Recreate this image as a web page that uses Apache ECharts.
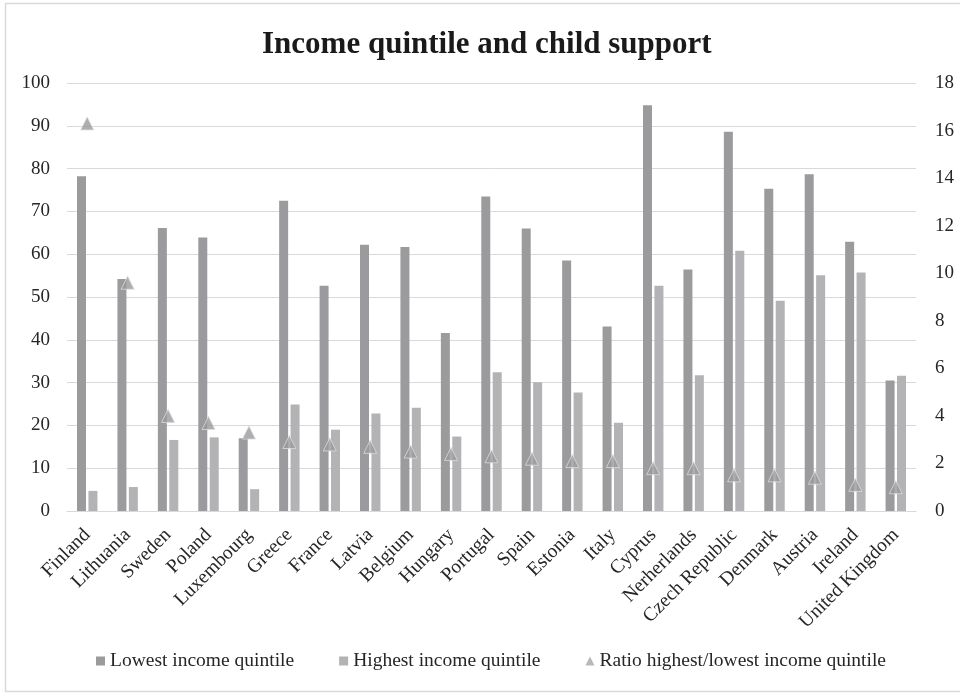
<!DOCTYPE html>
<html>
<head>
<meta charset="utf-8">
<script src="https://cdn.jsdelivr.net/npm/echarts@6/dist/echarts.min.js"></script>
<style>
  html, body { margin: 0; padding: 0; background: #fff; }
  #chart { width: 960px; height: 694px; }
</style>
</head>
<body>
<div id="chart"></div>
<script>
// Countries along the category axis
const countries = ['Finland', 'Lithuania', 'Sweden', 'Poland', 'Luxembourg', 'Greece', 'France',
  'Latvia', 'Belgium', 'Hungary', 'Portugal', 'Spain', 'Estonia', 'Italy', 'Cyprus',
  'Nerherlands', 'Czech Republic', 'Denmark', 'Austria', 'Ireland', 'United Kingdom'];

// Share receiving child support, lowest income quintile (left axis)
const lowestQuintile = [78.2, 54.2, 66.1, 63.9, 17.0, 72.5, 52.6, 62.2, 61.7, 41.6, 73.5,
  66.0, 58.5, 43.1, 94.8, 56.4, 88.6, 75.3, 78.7, 62.9, 30.5];

// Share receiving child support, highest income quintile (left axis)
const highestQuintile = [4.7, 5.6, 16.6, 17.2, 5.1, 24.9, 19.0, 22.8, 24.1, 17.4, 32.4,
  30.1, 27.7, 20.6, 52.6, 31.7, 60.8, 49.1, 55.1, 55.7, 31.6];

// Ratio between the two quintiles (right axis)
const ratio = [16.3, 9.6, 4.0, 3.7, 3.3, 2.9, 2.8, 2.7, 2.5, 2.4, 2.3,
  2.2, 2.1, 2.1, 1.8, 1.8, 1.5, 1.5, 1.4, 1.1, 1.0];

// Axis ranges
const leftAxis = { min: 0, max: 100, interval: 10 };
const rightAxis = { min: 0, max: 18, interval: 2 };

const serif = '"Liberation Serif", "DejaVu Serif", serif';
const textColor = '#262626';
const gridColor = '#d9d9d9';

const chart = echarts.init(document.getElementById('chart'), null, { renderer: 'canvas' });

chart.setOption({
  backgroundColor: '#ffffff',
  animation: false,
  graphic: [{
    type: 'rect',
    shape: { x: 5.5, y: 3.5, width: 1000, height: 688 },
    style: { fill: 'none', stroke: '#d9d9d9', lineWidth: 1.5 },
    silent: true
  }],
  title: {
    text: 'Income quintile and child support',
    left: 257,
    top: 24,
    textStyle: { fontFamily: serif, fontWeight: 'bold', fontSize: 31, color: '#1a1a1a' }
  },
  legend: {
    bottom: 18,
    left: 91,
    itemWidth: 9,
    itemHeight: 9,
    itemGap: 45,
    textStyle: { fontFamily: serif, fontSize: 19.5, color: textColor },
    data: [
      { name: 'Lowest income quintile', icon: 'rect' },
      { name: 'Highest income quintile', icon: 'rect' },
      { name: 'Ratio highest/lowest income quintile', icon: 'triangle',
        itemStyle: { color: '#a6a6a6', borderWidth: 0 } }
    ]
  },
  grid: { left: 67, right: 44, top: 83, bottom: 183, containLabel: false },
  xAxis: {
    type: 'category',
    data: countries,
    axisLine: { show: true, lineStyle: { color: gridColor, width: 1 } },
    axisTick: { show: false },
    axisLabel: {
      rotate: 45,
      interval: 0,
      margin: 21,
      fontFamily: serif,
      fontSize: 19.5,
      color: textColor
    }
  },
  yAxis: [{
    type: 'value',
    min: leftAxis.min,
    max: leftAxis.max,
    interval: leftAxis.interval,
    axisLine: { show: false },
    axisTick: { show: false },
    splitLine: { lineStyle: { color: gridColor, width: 1 } },
    axisLabel: { margin: 17, fontFamily: serif, fontSize: 19, color: textColor }
  }, {
    type: 'value',
    min: rightAxis.min,
    max: rightAxis.max,
    interval: rightAxis.interval,
    axisLine: { show: false },
    axisTick: { show: false },
    splitLine: { show: false },
    axisLabel: { margin: 19, fontFamily: serif, fontSize: 19, color: textColor }
  }],
  series: [{
    name: 'Lowest income quintile',
    type: 'bar',
    yAxisIndex: 0,
    data: lowestQuintile,
    barWidth: 9,
    barGap: '27%',
    itemStyle: { color: '#9b9b9d' }
  }, {
    name: 'Highest income quintile',
    type: 'bar',
    yAxisIndex: 0,
    data: highestQuintile,
    barWidth: 9,
    barGap: '27%',
    itemStyle: { color: '#b3b3b5' }
  }, {
    name: 'Ratio highest/lowest income quintile',
    type: 'scatter',
    yAxisIndex: 1,
    data: ratio,
    symbol: 'triangle',
    symbolSize: 13,
    z: 5,
    itemStyle: { color: '#999a9c', borderColor: '#dcdcdc', borderWidth: 1 }
  }]
});
</script>
</body>
</html>
